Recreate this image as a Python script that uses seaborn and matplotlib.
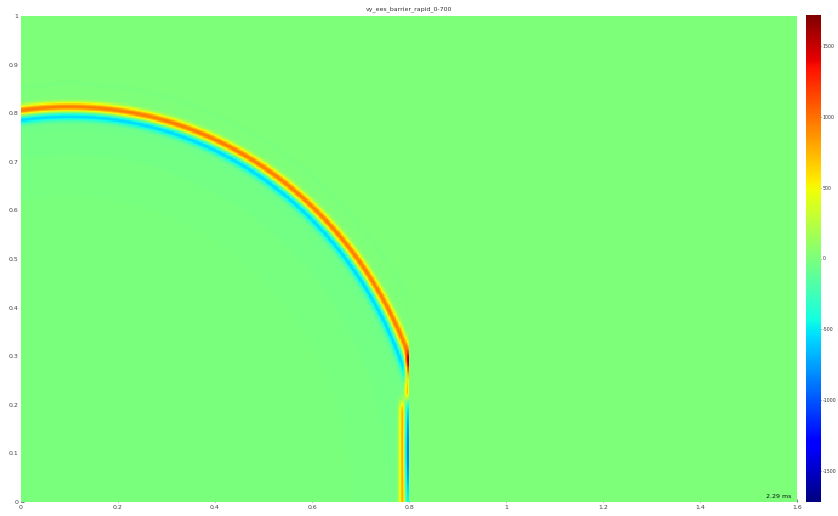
import numpy as np
import matplotlib
matplotlib.use("Agg")
import matplotlib.pyplot as plt
import seaborn as sns

# ---- labels and ticks ----
TITLE = "vy_ees_barrier_rapid_0-700"
TIME_LABEL = "2.29 ms"
X_TICKS = [0, 0.2, 0.4, 0.6, 0.8, 1.0, 1.2, 1.4, 1.6]
X_TICK_LABELS = ["0", "0.2", "0.4", "0.6", "0.8", "1", "1.2", "1.4", "1.6"]
Y_TICKS = [0, 0.1, 0.2, 0.3, 0.4, 0.5, 0.6, 0.7, 0.8, 0.9, 1.0]
Y_TICK_LABELS = ["0", "0.1", "0.2", "0.3", "0.4", "0.5", "0.6", "0.7", "0.8", "0.9", "1"]
CBAR_TICKS = [1500, 1000, 500, 0, -500, -1000, -1500]
CBAR_TICK_LABELS = ["1500", "1000", "500", "0", "-500", "-1000", "-1500"]
V_LIMIT = 1720

# ---- domain ----
X_EXTENT = 1.6
Y_EXTENT = 1.0
CELL = 0.0025

# ---- wavefront (elliptical front from a source on the bottom edge) ----
SOURCE_X = 0.10
SOURCE_Y = 0.0
FRONT_SEMI_X = 0.755
FRONT_SEMI_Y = 0.815
CREST_AMPLITUDE = 960
CREST_WIDTH = 0.0066
TROUGH_AMPLITUDE = -560
TROUGH_OFFSET = -0.021
TROUGH_WIDTH = 0.006
WAKE_AMPLITUDE = -45

# ---- barrier and the waves along it ----
BARRIER_X = 0.801
WALL_CREST_X = 0.797
WALL_CREST_AMPLITUDE = 1650
WALL_CREST_SPAN = (0.215, 0.30)
LEFT_STRIPE_X = 0.786
LEFT_STRIPE_AMPLITUDE = 820
LEFT_STRIPE_SPAN = (-0.05, 0.205)
RIGHT_STRIPE_X = 0.797
RIGHT_STRIPE_AMPLITUDE = -950
RIGHT_STRIPE_SPAN = (0.04, 0.17)
RIGHT_STRIPE_BASE = -420
RIGHT_STRIPE_BASE_SPAN = (-0.05, 0.205)


def sigmoid(z):
    return 1.0 / (1.0 + np.exp(-z))


def window(v, lo, hi, edge):
    return sigmoid((v - lo) / edge) * sigmoid((hi - v) / edge)


nx = int(round(X_EXTENT / CELL))
ny = int(round(Y_EXTENT / CELL))
xc = (np.arange(nx) + 0.5) * CELL
yc = (np.arange(ny) + 0.5) * CELL
X, Y = np.meshgrid(xc, yc)

# signed distance from the front (positive outside)
rho = np.sqrt(((X - SOURCE_X) / FRONT_SEMI_X) ** 2 + ((Y - SOURCE_Y) / FRONT_SEMI_Y) ** 2)
s = (rho - 1.0) * 0.785

field = CREST_AMPLITUDE * np.exp(-0.5 * ((s + 0.002) / CREST_WIDTH) ** 2)
field += TROUGH_AMPLITUDE * np.exp(-0.5 * ((s - TROUGH_OFFSET) / TROUGH_WIDTH) ** 2)
field += WAKE_AMPLITUDE * np.exp(np.minimum(s + 0.035, 0) / 0.12) * sigmoid(-(s + 0.025) / 0.004)

# stronger crest hugging the barrier face
field += (WALL_CREST_AMPLITUDE - CREST_AMPLITUDE * 0.5) * np.exp(-0.5 * ((X - WALL_CREST_X) / 0.0038) ** 2) \
    * window(Y, WALL_CREST_SPAN[0], WALL_CREST_SPAN[1], 0.006)
# vertical stripes at the base of the barrier
field += LEFT_STRIPE_AMPLITUDE * np.exp(-0.5 * ((X - LEFT_STRIPE_X) / 0.0045) ** 2) \
    * window(Y, LEFT_STRIPE_SPAN[0], LEFT_STRIPE_SPAN[1], 0.006)
field += RIGHT_STRIPE_BASE * np.exp(-0.5 * ((X - RIGHT_STRIPE_X) / 0.0038) ** 2) \
    * window(Y, RIGHT_STRIPE_BASE_SPAN[0], RIGHT_STRIPE_BASE_SPAN[1], 0.006)
field += (RIGHT_STRIPE_AMPLITUDE - RIGHT_STRIPE_BASE) * np.exp(-0.5 * ((X - RIGHT_STRIPE_X) / 0.0038) ** 2) \
    * window(Y, RIGHT_STRIPE_SPAN[0], RIGHT_STRIPE_SPAN[1], 0.02)

# nothing passes the barrier; flush numerical dust ahead of the front
field[X > BARRIER_X] = 0.0
field[(s > 0.05) & (np.abs(field) < 1.0)] = 0.0
field = np.clip(field, -V_LIMIT, V_LIMIT)

# ---- figure ----
sns.set_theme(style="white")
plt.rcParams["font.family"] = ["DejaVu Sans"]
fig = plt.figure(figsize=(8.38, 5.16), dpi=100)
ax = fig.add_axes([21 / 838, 14 / 516, 776 / 838, 486 / 516])
cax = fig.add_axes([806 / 838, 14 / 516, 15 / 838, 487 / 516])

sns.heatmap(field, ax=ax, cbar_ax=cax, cmap="jet", vmin=-V_LIMIT, vmax=V_LIMIT,
            xticklabels=False, yticklabels=False)
ax.invert_yaxis()

ax.set_xticks(np.array(X_TICKS) / CELL)
ax.set_xticklabels(X_TICK_LABELS, fontsize=4.5, color="#444444", rotation=0)
ax.set_yticks(np.array(Y_TICKS) / CELL)
ax.set_yticklabels(Y_TICK_LABELS, fontsize=4.5, color="#444444", rotation=0)
ax.tick_params(axis="both", direction="in", length=2, width=0.5, pad=2,
               bottom=True, left=True, colors="#444444")
ax.set_title(TITLE, fontsize=4.5, color="#333333", pad=4)
ax.text(0.993, 0.006, TIME_LABEL, transform=ax.transAxes, ha="right", va="bottom",
        fontsize=4.5, color="#111111")

cax.set_yticks(CBAR_TICKS)
cax.set_yticklabels(CBAR_TICK_LABELS, fontsize=3.4, color="#444444")
cax.tick_params(direction="in", length=3, width=0.5, pad=1, left=True, right=True,
                colors="#333333")
for sp in cax.spines.values():
    sp.set_visible(False)

fig.savefig("out.png", dpi=100)
